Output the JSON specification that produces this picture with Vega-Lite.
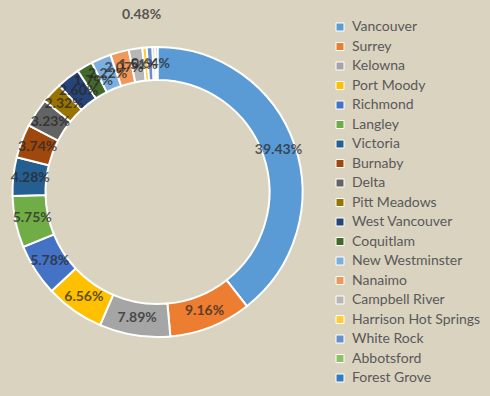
{
  "$schema": "https://vega.github.io/schema/vega-lite/v6.json",
  "autosize": {"type": "none"},
  "width": 315,
  "height": 384,
  "padding": {"left": 0, "top": 0, "right": 175, "bottom": 12},
  "background": "#D9D3C0",
  "config": {"view": {"stroke": null}},
  "data": {"values": [
    {"city": "Vancouver", "share": 0.3943},
    {"city": "Surrey", "share": 0.0916},
    {"city": "Kelowna", "share": 0.0789},
    {"city": "Port Moody", "share": 0.0656},
    {"city": "Richmond", "share": 0.0578},
    {"city": "Langley", "share": 0.0575},
    {"city": "Victoria", "share": 0.0428},
    {"city": "Burnaby", "share": 0.0374},
    {"city": "Delta", "share": 0.0323},
    {"city": "Pitt Meadows", "share": 0.0232},
    {"city": "West Vancouver", "share": 0.026},
    {"city": "Coquitlam", "share": 0.0179},
    {"city": "New Westminster", "share": 0.0222},
    {"city": "Nanaimo", "share": 0.0207},
    {"city": "Campbell River", "share": 0.0151},
    {"city": "Harrison Hot Springs", "share": 0.0048},
    {"city": "White Rock", "share": 0.0064},
    {"city": "Abbotsford", "share": 0.003},
    {"city": "Forest Grove", "share": 0.0025}
  ]},
  "transform": [{"window": [{"op": "row_number", "as": "idx"}]}],
  "encoding": {
    "theta": {"field": "share", "type": "quantitative", "stack": true},
    "order": {"field": "idx", "type": "quantitative"}
  },
  "layer": [
    {
      "mark": {"type": "arc", "radius": 145, "radius2": 112, "stroke": "#ffffff", "strokeWidth": 2},
      "encoding": {
        "color": {
          "field": "city", "type": "nominal", "sort": null,
          "scale": {"range": ["#5B9BD5", "#ED7D31", "#A5A5A5", "#FFC000", "#4472C4", "#70AD47", "#255E91", "#9E480E", "#636363", "#997300", "#264478", "#43682B", "#7CAFDD", "#F1975A", "#B7B7B7", "#FFCD33", "#698ED0", "#8CC168", "#327DC2"]},
          "legend": {
            "title": null, "orient": "none", "legendX": 333, "legendY": 20,
            "symbolType": "square", "symbolSize": 64, "symbolStrokeColor": "#ffffff", "symbolStrokeWidth": 1,
            "labelFont": "Lato", "labelFontSize": 14, "labelColor": "#595959",
            "rowPadding": 5.5, "labelOffset": 5, "labelLimit": 200
          }
        }
      }
    },
    {
      "mark": {"type": "text", "radius": 128, "font": "Lato", "fontWeight": "bold", "fontSize": 14, "color": "#262626", "opacity": 0.72},
      "encoding": {
        "text": {
          "condition": {"test": "datum.city === 'Abbotsford' || datum.city === 'Forest Grove' || datum.city === 'Harrison Hot Springs'", "value": ""},
          "field": "share", "type": "quantitative", "format": ".2%"
        }
      }
    },
    {
      "mark": {"type": "text", "radius": 178, "font": "Lato", "fontWeight": "bold", "fontSize": 14, "color": "#262626", "opacity": 0.72},
      "encoding": {
        "text": {
          "condition": {"test": "datum.city !== 'Harrison Hot Springs'", "value": ""},
          "field": "share", "type": "quantitative", "format": ".2%"
        }
      }
    }
  ]
}
